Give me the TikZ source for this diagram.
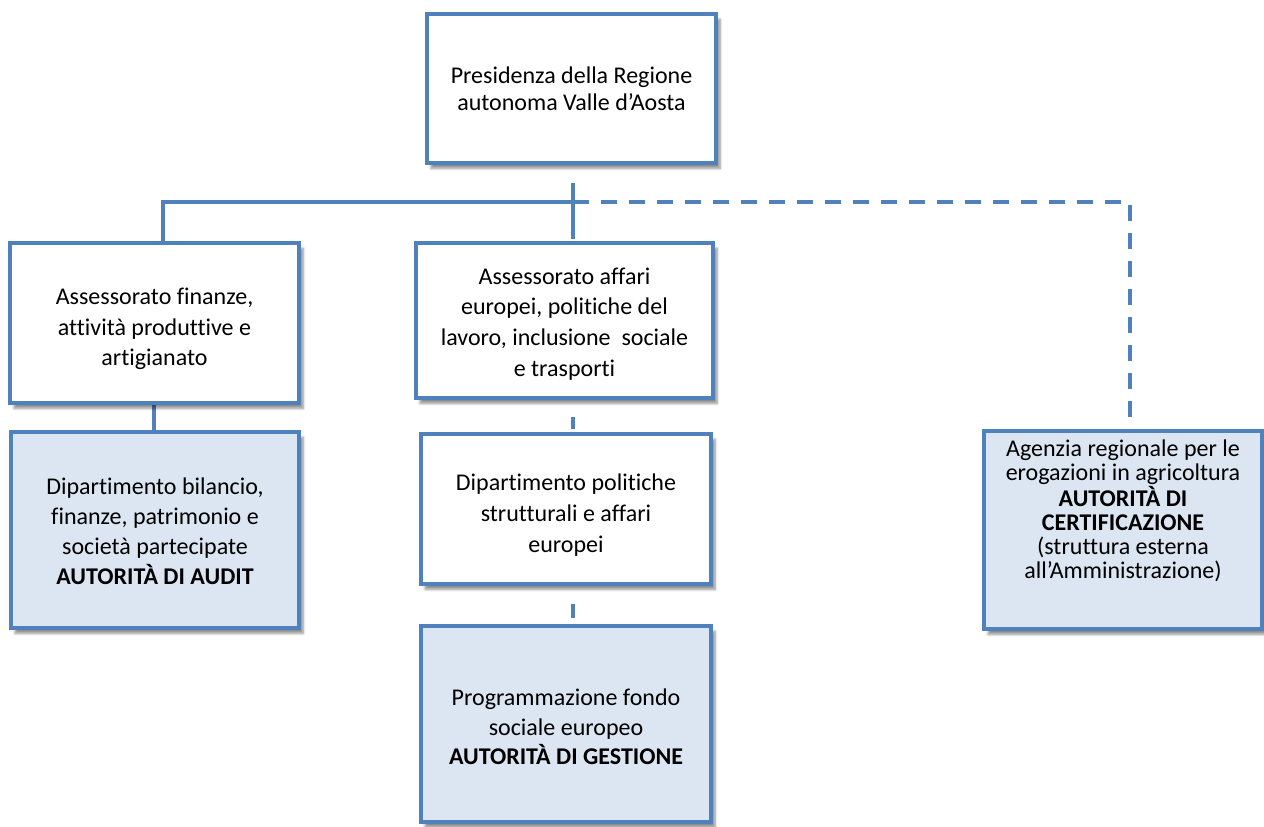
\documentclass[tikz,border=0pt]{standalone}
\usepackage{fontspec}
\setmainfont{Carlito}[Ligatures=NoCommon]
\usetikzlibrary{shadows.blur}
\definecolor{bord}{HTML}{4F81BD}
\definecolor{lblue}{HTML}{DCE6F2}
\tikzset{
  box/.style={draw=bord, line width=3pt, fill=white, inner sep=0pt,
    blur shadow={shadow xshift=3pt, shadow yshift=-4pt, shadow blur steps=6, shadow opacity=45}},
  hbox/.style={box, fill=lblue},
  txt/.style={align=center, inner sep=0pt, font=\fontsize{18}{23}\selectfont},
  conn/.style={draw=bord, line width=3pt},
  dconn/.style={conn, dash pattern=on 12pt off 9pt}
}
\begin{document}
\begin{tikzpicture}[x=0.75pt,y=-0.75pt]
\useasboundingbox (0,0) rectangle (1264,826);
% connectors
\coordinate (ts) at (573,183);
\coordinate (j) at (573,202);
\coordinate (jl) at (163,202);
\coordinate (jlb) at (163,241);
\coordinate (jm) at (573,239);
\coordinate (jr) at (1130,202);
\coordinate (jrb) at (1130,430);
\coordinate (d1a) at (573,417);
\coordinate (d1b) at (573,429);
\coordinate (d2a) at (573,604);
\coordinate (d2b) at (573,618);
\coordinate (la) at (154,403);
\coordinate (lb) at (154,433);
\draw[conn] (ts) -- (jm);
\draw[conn] (jlb) -- (jl) -- (j);
\draw[dconn] (j) -- (jr) -- (jrb);
\draw[conn] (d1a) -- (d1b);
\draw[conn] (d2a) -- (d2b);
\draw[conn] (la) -- (lb);
% boxes
\node[box, minimum width=289*0.75pt, minimum height=149*0.75pt] (top) at (571.5,88.5) {};
\node[box, minimum width=289*0.75pt, minimum height=160*0.75pt] (a1) at (154.5,323) {};
\node[box, minimum width=297*0.75pt, minimum height=155*0.75pt] (m1) at (564.5,320.5) {};
\node[hbox, minimum width=288*0.75pt, minimum height=196*0.75pt] (a2) at (155,530) {};
\node[box, minimum width=290*0.75pt, minimum height=150*0.75pt] (m2) at (566,509) {};
\node[hbox, minimum width=290*0.75pt, minimum height=196*0.75pt] (m3) at (566,724) {};
\node[hbox, minimum width=278*0.75pt, minimum height=198*0.75pt] (r) at (1123,530) {};
% texts
\node[txt, font=\fontsize{18}{20.5}\selectfont] (topt) at (571.5,89)
  {Presidenza della Regione\\autonoma Valle d’Aosta};
\node[txt] (a1t) at (154.5,329)
  {Assessorato finanze,\\attività produttive e\\artigianato};
\node[txt] (m1t) at (564.5,324)
  {Assessorato affari\\europei, politiche del\\lavoro, inclusione\ \ sociale\\e trasporti};
\node[txt, font=\fontsize{18}{22.5}\selectfont] (a2t) at (155,531)
  {Dipartimento bilancio,\\finanze, patrimonio e\\società partecipate\\\textbf{AUTORITÀ DI AUDIT}};
\node[txt] (m2t) at (566,515)
  {Dipartimento politiche\\strutturali e affari\\europei};
\node[txt, font=\fontsize{18}{22}\selectfont] (m3t) at (566,727)
  {Programmazione fondo\\sociale europeo\\\textbf{AUTORITÀ DI GESTIONE}};
\node[txt, font=\fontsize{18}{18}\selectfont] (rt) at (1123,511)
  {Agenzia regionale per le\\erogazioni in agricoltura\\\textbf{AUTORITÀ DI}\\\textbf{CERTIFICAZIONE}\\(struttura esterna\\all’Amministrazione)};
\end{tikzpicture}
\end{document}
